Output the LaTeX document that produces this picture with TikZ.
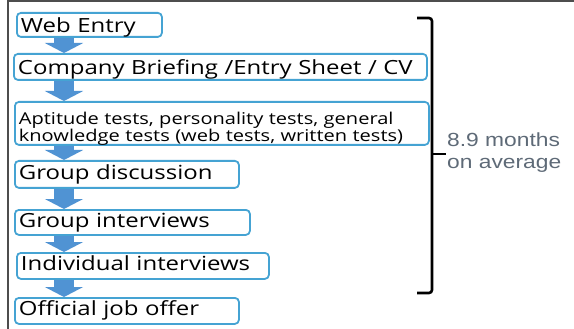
\documentclass[tikz,border=0pt]{standalone}
\usepackage{fontspec}
\usepackage{xcolor}
\usepackage{tikz}
\newfontfamily\stagefont[FakeStretch=1.23]{Open Sans}
\newfontfamily\notefont[FakeStretch=1.2]{Liberation Sans}
\usetikzlibrary{arrows.meta}

\definecolor{stageline}{HTML}{45A3D3}
\definecolor{flowblue}{HTML}{5093D3}
\definecolor{notegray}{HTML}{5E6A77}
\definecolor{framegray}{HTML}{4D4D4D}

\tikzset{
    stage/.style={draw=stageline, line width=1.8pt, rounded corners=4pt, anchor=north west,
        inner xsep=4pt, inner ysep=0pt, align=left, text height=15pt, text depth=5pt,
        font=\stagefont\fontsize{19.5}{20}\selectfont},
    flow/.style={flowblue, line width=20pt, -{Triangle[width=38pt,length=10pt]}},
    brace/.style={line width=2.6pt, rounded corners=3pt},
    note/.style={anchor=west, inner sep=0pt, align=left, text=notegray,
        font=\notefont\fontsize{19}{21.5}\selectfont}
}

\begin{document}
\begin{tikzpicture}[x=1pt, y=-1pt]
    \useasboundingbox (0,0) rectangle (574,329);
    % frame
    \draw[framegray, line width=2pt] (574,1.5) -- (7.5,1.5) -- (7.5,329);

    % stages
    \node[stage, minimum width=145pt, minimum height=24pt, text width=137pt, text depth=0pt] (web) at (16,12) {Web Entry};
    \node[stage, minimum width=413pt, minimum height=26pt, text width=405pt, text depth=0pt] (brief) at (13,53) {Company Briefing /Entry Sheet / CV};
    \node[stage, minimum width=414pt, minimum height=43pt, text width=406pt, text height=21.6pt, text depth=20pt,
        font=\stagefont\fontsize{16.3}{16}\selectfont] (apt) at (14,101)
        {Aptitude tests, personality tests, general\\knowledge tests (web tests, written tests)};
    \node[stage, minimum width=224pt, minimum height=27pt, text width=216pt] (gd) at (14,160) {Group discussion};
    \node[stage, minimum width=235pt, minimum height=25pt, text width=227pt] (gi) at (14,209) {Group interviews};
    \node[stage, minimum width=252pt, minimum height=26pt, text width=244pt] (ii) at (16,252) {Individual interviews};
    \node[stage, minimum width=224pt, minimum height=26pt, text width=216pt] (offer) at (14,297) {Official job offer};

    % arrows
    \coordinate (ax) at (64,0);
    \foreach \a/\b in {web/brief, brief/apt, apt/gd, gd/gi, gi/ii, ii/offer}
        \draw[flow] (\a.south -| ax) -- (\b.north -| ax);

    % bracket
    \coordinate (bt) at (432,18);
    \coordinate (bb) at (432,293);
    \draw[brace] ([xshift=-15pt]bt) -- (bt) -- (bb) -- ([xshift=-15pt]bb);
    \draw[line width=2.6pt] (432,154) -- (446,154);
    \node[note] (avg) at (447,152.4) {8.9 months\\on average};
\end{tikzpicture}
\end{document}
